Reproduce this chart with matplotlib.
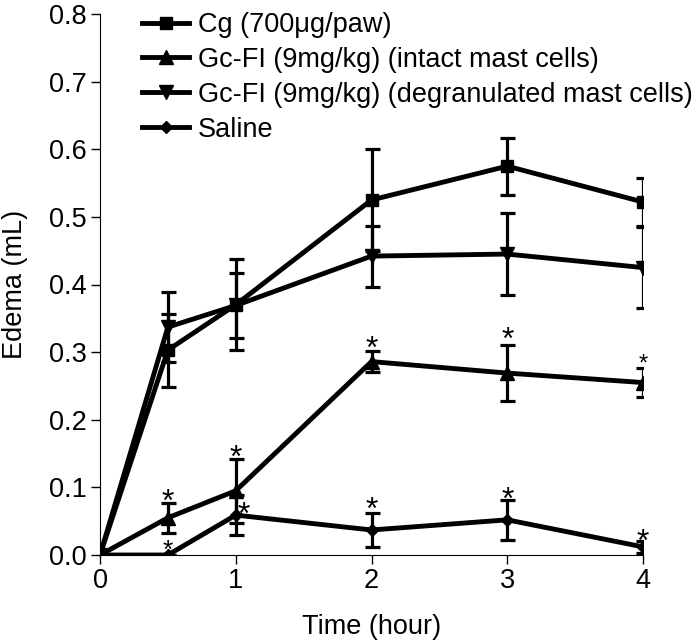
import matplotlib.pyplot as plt

plt.rcParams['font.family'] = ['Liberation Sans', 'DejaVu Sans']

# Data
time = [0, 0.5, 1, 2, 3, 4]
cg = [0, 0.303, 0.370, 0.525, 0.575, 0.522]
cg_err = [0, 0.054, 0.067, 0.075, 0.042, 0.036]
intact = [0, 0.055, 0.095, 0.286, 0.269, 0.255]
intact_err = [0, 0.022, 0.047, 0.016, 0.041, 0.022]
degr = [0, 0.337, 0.369, 0.442, 0.445, 0.425]
degr_err = [0, 0.052, 0.048, 0.045, 0.060, 0.060]
saline = [0, 0, 0.059, 0.037, 0.052, 0.012]
saline_err = [0, 0, 0.029, 0.025, 0.030, 0.009]

# significance marks (x, y, font size)
star_x = [0.5, 1, 2, 3, 4, 0.5, 1.06, 2, 3, 4]
star_y = [0.093, 0.158, 0.320, 0.333, 0.293, 0.019, 0.074, 0.081, 0.096, 0.035]
star_size = [23, 23, 23, 23, 17, 19, 23, 23, 23, 23]

fig = plt.figure(figsize=(6.95, 6.41), dpi=100)
ax = fig.add_axes([100 / 695, 86 / 641, 543 / 695, 541 / 641])

style = dict(color='black', lw=3.5, elinewidth=2.3, capsize=5.4, capthick=2.3)
ax.errorbar(time, cg, yerr=cg_err, marker='s', ms=9, label='Cg (700\u03bcg/paw)', **style)
ax.errorbar(time, intact, yerr=intact_err, marker='^', ms=10,
            label='Gc-FI (9mg/kg) (intact mast cells)', **style)
ax.errorbar(time, degr, yerr=degr_err, marker='v', ms=10,
            label='Gc-FI (9mg/kg) (degranulated mast cells)', **style)
ax.errorbar(time, saline, yerr=saline_err, marker='D', ms=6.5, label='Saline', **style)

for x, y, s in zip(star_x, star_y, star_size):
    ax.annotate('*', (x, y), xytext=(0, -0.6 * s), textcoords='offset points',
                ha='center', va='baseline', fontsize=s)

ax.set_xlim(0, 4)
ax.set_ylim(0, 0.8)
ax.set_xticks([0, 1, 2, 3, 4])
ax.set_yticks([0.0, 0.1, 0.2, 0.3, 0.4, 0.5, 0.6, 0.7, 0.8])
ax.set_yticklabels(['0.0', '0.1', '0.2', '0.3', '0.4', '0.5', '0.6', '0.7', '0.8'])
ax.tick_params(labelsize=19.5, length=6.5, width=1, pad=3)
ax.spines['top'].set_visible(False)
ax.spines['right'].set_visible(False)
ax.set_xlabel('Time (hour)', fontsize=19.5, labelpad=14)
ax.set_ylabel('Edema (mL)', fontsize=19.5, labelpad=15)

# legend shows only the line + marker, not the error bars
handles, labels = ax.get_legend_handles_labels()
handles = [h[0] for h in handles]
fig.legend(handles, labels, loc='upper left', bbox_to_anchor=(142 / 695, 1 - 12 / 641),
           frameon=False, fontsize=19.5, borderpad=0, borderaxespad=0,
           handlelength=1.75, handletextpad=0.3, labelspacing=0.33)

fig.savefig('out.png', dpi=100)
